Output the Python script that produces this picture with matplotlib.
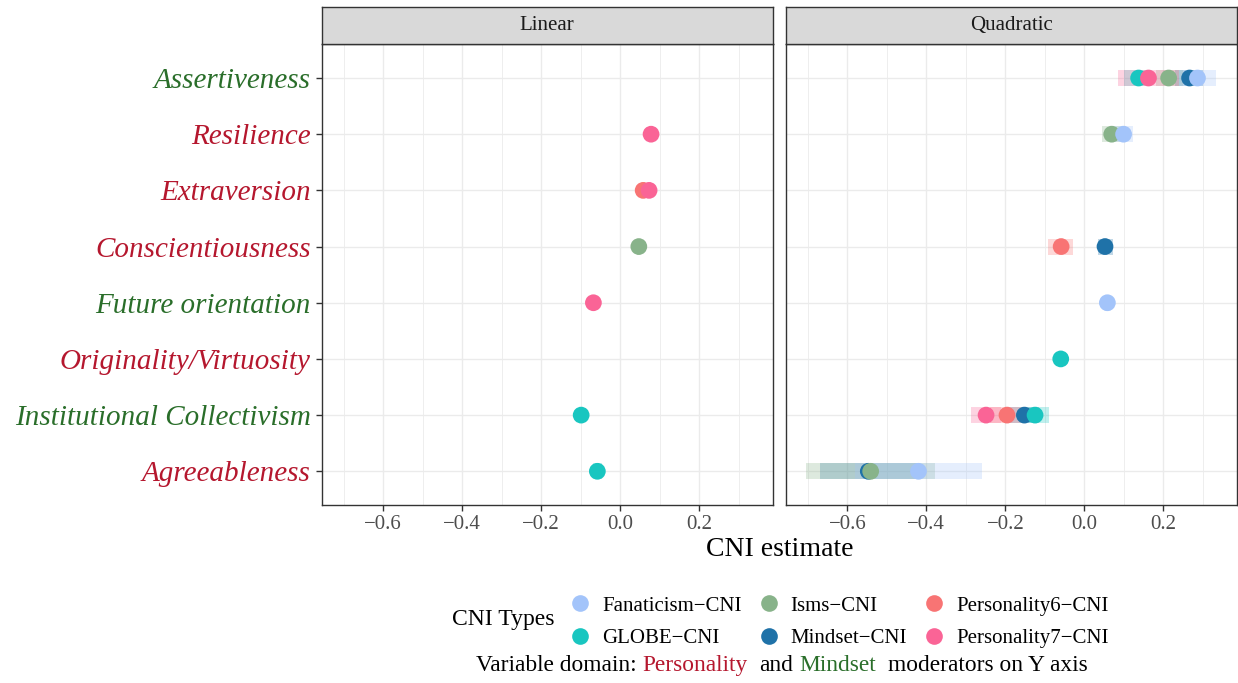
import matplotlib
matplotlib.use("Agg")
import matplotlib.pyplot as plt
import numpy as np
from matplotlib import ticker
from matplotlib.lines import Line2D

plt.rcParams["font.family"] = ["Liberation Serif", "DejaVu Serif"]

# y-axis terms, top to bottom, with their domain
terms = ["Assertiveness", "Resilience", "Extraversion", "Conscientiousness",
         "Future orientation", "Originality/Virtuosity",
         "Institutional Collectivism", "Agreeableness"]
term_domain = ["Mindset", "Personality", "Personality", "Personality",
               "Mindset", "Personality", "Mindset", "Personality"]

cni_types = ["Fanaticism−CNI", "GLOBE−CNI", "Isms−CNI", "Mindset−CNI",
             "Personality6−CNI", "Personality7−CNI"]
cni_colors = ["#A3C4FA", "#19C6C0", "#88B38A", "#1F72A8", "#F87474", "#FA6496"]
draw_order = ["Mindset−CNI", "GLOBE−CNI", "Isms−CNI", "Fanaticism−CNI",
              "Personality6−CNI", "Personality7−CNI"]

# Linear model estimates
lin_term = ["Resilience", "Extraversion", "Extraversion", "Conscientiousness",
            "Future orientation", "Institutional Collectivism", "Agreeableness"]
lin_type = ["Personality7−CNI", "Personality6−CNI", "Personality7−CNI", "Isms−CNI",
            "Personality7−CNI", "GLOBE−CNI", "GLOBE−CNI"]
lin_est = [0.078, 0.058, 0.073, 0.047, -0.068, -0.099, -0.058]
lin_lo = [0.074, 0.054, 0.069, 0.043, -0.072, -0.103, -0.070]
lin_hi = [0.082, 0.062, 0.077, 0.051, -0.064, -0.095, -0.046]

# Quadratic model estimates
quad_term = ["Assertiveness", "Assertiveness", "Assertiveness", "Assertiveness",
             "Assertiveness", "Resilience", "Resilience", "Conscientiousness",
             "Conscientiousness", "Future orientation", "Originality/Virtuosity",
             "Institutional Collectivism", "Institutional Collectivism",
             "Institutional Collectivism", "Institutional Collectivism",
             "Agreeableness", "Agreeableness", "Agreeableness"]
quad_type = ["GLOBE−CNI", "Personality7−CNI", "Isms−CNI", "Mindset−CNI",
             "Fanaticism−CNI", "Isms−CNI", "Fanaticism−CNI", "Personality6−CNI",
             "Mindset−CNI", "Fanaticism−CNI", "GLOBE−CNI",
             "Personality7−CNI", "Personality6−CNI", "Mindset−CNI", "GLOBE−CNI",
             "Mindset−CNI", "Isms−CNI", "Fanaticism−CNI"]
quad_est = [0.137, 0.162, 0.213, 0.266, 0.286, 0.069, 0.099, -0.059,
            0.052, 0.058, -0.060, -0.249, -0.196, -0.152, -0.125,
            -0.547, -0.541, -0.420]
quad_lo = [0.100, 0.085, 0.180, 0.230, 0.240, 0.044, 0.075, -0.093,
           0.035, 0.050, -0.065, -0.288, -0.240, -0.190, -0.160,
           -0.670, -0.705, -0.580]
quad_hi = [0.170, 0.240, 0.250, 0.300, 0.334, 0.095, 0.123, -0.028,
           0.073, 0.066, -0.055, -0.210, -0.150, -0.115, -0.089,
           -0.425, -0.377, -0.260]

RED = "#B5172E"
GREEN = "#2A6E2A"

W, H = 1238, 683
fig = plt.figure(figsize=(W / 100, H / 100), dpi=100)


def box(l, t, r, b):
    return [l / W, 1 - b / H, (r - l) / W, (b - t) / H]


ypos = {t: len(terms) - 1 - i for i, t in enumerate(terms)}
col = dict(zip(cni_types, cni_colors))


def panel(ax, term, ctype, est, lo, hi):
    ax.set_xlim(-0.756, 0.386)
    ax.set_ylim(-0.6, len(terms) - 0.4)
    ax.xaxis.set_major_locator(ticker.MultipleLocator(0.2))
    ax.xaxis.set_minor_locator(ticker.MultipleLocator(0.1))
    ax.set_yticks([ypos[t] for t in terms])
    ax.grid(which="major", color="#EBEBEB", linewidth=1.0)
    ax.grid(which="minor", axis="x", color="#EBEBEB", linewidth=0.6)
    ax.set_axisbelow(True)
    for s in ax.spines.values():
        s.set_color("#333333")
        s.set_linewidth(1.0)
    ax.tick_params(axis="x", which="major", colors="#333333", labelcolor="#4D4D4D",
                   labelsize=15, length=4, width=1.0)
    ax.tick_params(which="minor", length=0)
    for ct in draw_order:
        idx = [i for i, c in enumerate(ctype) if c == ct]
        if not idx:
            continue
        ys = [ypos[term[i]] for i in idx]
        ax.hlines(ys, [lo[i] for i in idx], [hi[i] for i in idx], color=col[ct],
                  alpha=0.28, linewidth=11.5, capstyle="butt", zorder=2)
    for z, ct in enumerate(draw_order):
        idx = [i for i, c in enumerate(ctype) if c == ct]
        if not idx:
            continue
        ys = [ypos[term[i]] for i in idx]
        ax.scatter([est[i] for i in idx], ys, s=145, color=col[ct],
                   edgecolors="none", zorder=3 + z)


ax_lin = fig.add_axes(box(321.7, 44.3, 772.7, 505))
ax_quad = fig.add_axes(box(785.7, 44.3, 1237, 505))
panel(ax_lin, lin_term, lin_type, lin_est, lin_lo, lin_hi)
panel(ax_quad, quad_term, quad_type, quad_est, quad_lo, quad_hi)

ax_lin.set_yticklabels(terms, fontsize=21, style="italic")
ax_lin.tick_params(axis="y", colors="#333333", length=4, width=1.0, pad=4)
for lab, dom in zip(ax_lin.get_yticklabels(), term_domain):
    lab.set_color(RED if dom == "Personality" else GREEN)
ax_quad.tick_params(axis="y", length=0, labelleft=False)

# facet strips
for (l, r), name in zip([(321.7, 772.7), (785.7, 1237)], ["Linear", "Quadratic"]):
    sax = fig.add_axes(box(l, 7.3, r, 44.3))
    sax.set_facecolor("#D9D9D9")
    sax.set_xticks([])
    sax.set_yticks([])
    for s in sax.spines.values():
        s.set_color("#333333")
        s.set_linewidth(1.0)
    sax.text(0.5, 0.5, name, ha="center", va="center", fontsize=15,
             color="#1A1A1A", transform=sax.transAxes)

fig.text((321.7 + 1237) / 2 / W, 1 - 550 / H, "CNI estimate", ha="center",
         va="center", fontsize=20)

# legend
handles = [Line2D([], [], linestyle="none", marker="o", markersize=12,
                  markerfacecolor=c, markeredgecolor="none") for c in cni_colors]
fig.legend(handles, cni_types, ncol=3, loc="upper left",
           bbox_to_anchor=(570 / W, 1 - 596 / H), frameon=False, fontsize=15,
           handlelength=1.0, handletextpad=0.55, columnspacing=0.8,
           labelspacing=0.62, borderpad=0, borderaxespad=0)
fig.text(452 / W, 1 - 620 / H, "CNI Types", ha="left", va="center", fontsize=17)

# caption with coloured words
renderer = fig.canvas.get_renderer()
cap_parts = [("Variable domain: ", "black"), ("Personality", RED),
             ("  and ", "black"), ("Mindset", GREEN),
             ("  moderators on Y axis", "black")]
cap_size = 16.8


def width(s):
    t = fig.text(0, 0, s, fontsize=cap_size)
    w = t.get_window_extent(renderer).width
    t.remove()
    return w


x0 = 476
prefix = ""
for part, c in cap_parts:
    word = part.strip(" ")
    lead = part[:len(part) - len(part.lstrip(" "))]
    pre = prefix + lead
    off = width(pre + "x") - width("x") if pre else 0
    fig.text((x0 + off) / W, 1 - 671 / H, word, color=c,
             fontsize=cap_size, ha="left", va="baseline")
    prefix += part

fig.savefig("out.png", dpi=100)
